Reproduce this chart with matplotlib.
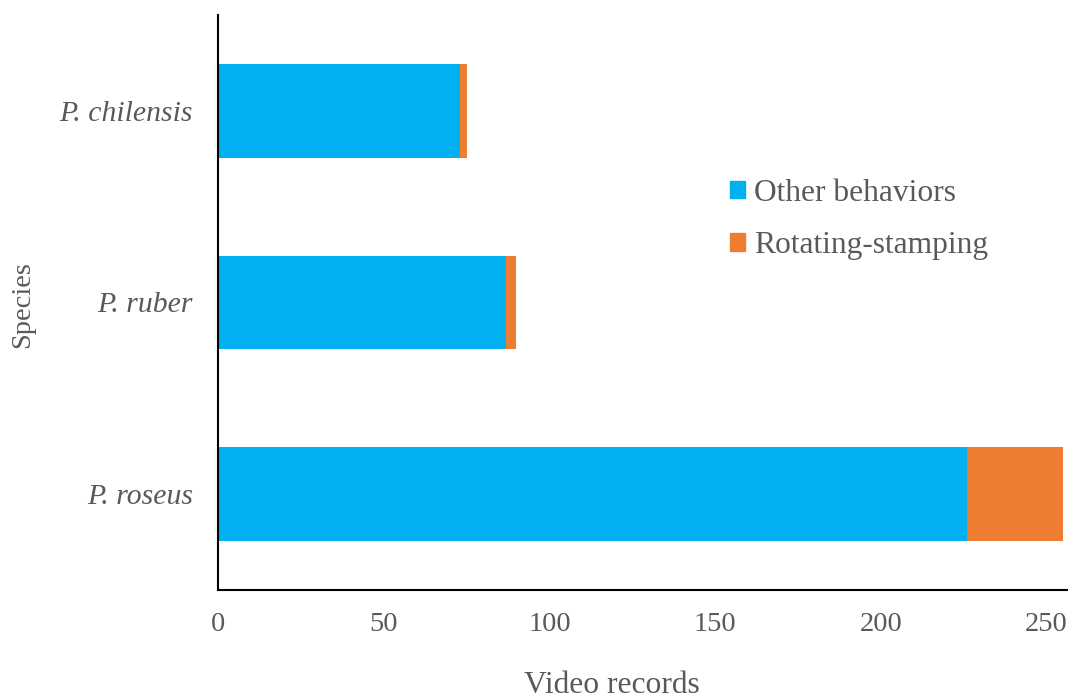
import matplotlib
matplotlib.use("Agg")
import matplotlib.pyplot as plt
from matplotlib.patches import Patch

species = ["P. roseus", "P. ruber", "P. chilensis"]
other_behaviors = [226, 87, 73]
rotating_stamping = [29, 3, 2]
x_ticks = [0, 50, 100, 150, 200, 250]

blue = "#00B0F0"
orange = "#ED7D31"
grey = "#595959"

plt.rcParams["font.family"] = ["Liberation Serif", "DejaVu Serif"]

W, H = 1068, 700
fig = plt.figure(figsize=(W / 100, H / 100), dpi=100)
ax = fig.add_axes([218 / W, 110 / H, 850 / W, 575 / H])

ypos = list(range(len(species)))
ax.barh(ypos, other_behaviors, height=0.49, color=blue)
ax.barh(ypos, rotating_stamping, left=other_behaviors, height=0.49, color=orange)

ax.set_xlim(0, 256.5)
ax.set_ylim(-0.5, 2.5)
ax.set_xticks(x_ticks)
ax.set_xticklabels([str(t) for t in x_ticks], fontsize=20.5, color=grey)
ax.set_yticks(ypos)
ax.set_yticklabels(species, fontsize=21.4, color=grey, style="italic")
ax.tick_params(axis="both", length=0)
ax.tick_params(axis="x", pad=16)
ax.tick_params(axis="y", pad=18)

for side in ("top", "right"):
    ax.spines[side].set_visible(False)
for side in ("left", "bottom"):
    ax.spines[side].set_color("black")
    ax.spines[side].set_linewidth(1.5)

# axis titles
fig.text(612 / W, 1 - 693 / H, "Video records", fontsize=22.7, color=grey,
         ha="center", va="baseline")
fig.text(23 / W, 1 - 305 / H, "Species", fontsize=20.5, color=grey,
         ha="center", va="center", rotation=90)

handles = [Patch(color=blue), Patch(color=orange)]
ax.legend(handles, ["Other behaviors", "Rotating-stamping"],
          loc="center left", bbox_to_anchor=(714 / W, 1 - 219.5 / H),
          bbox_transform=fig.transFigure, frameon=False, borderpad=0,
          fontsize=22.7, labelcolor=grey, handlelength=0.48, handleheight=0.48,
          handletextpad=0.3, labelspacing=0.74)

fig.savefig("out.png", dpi=100)
